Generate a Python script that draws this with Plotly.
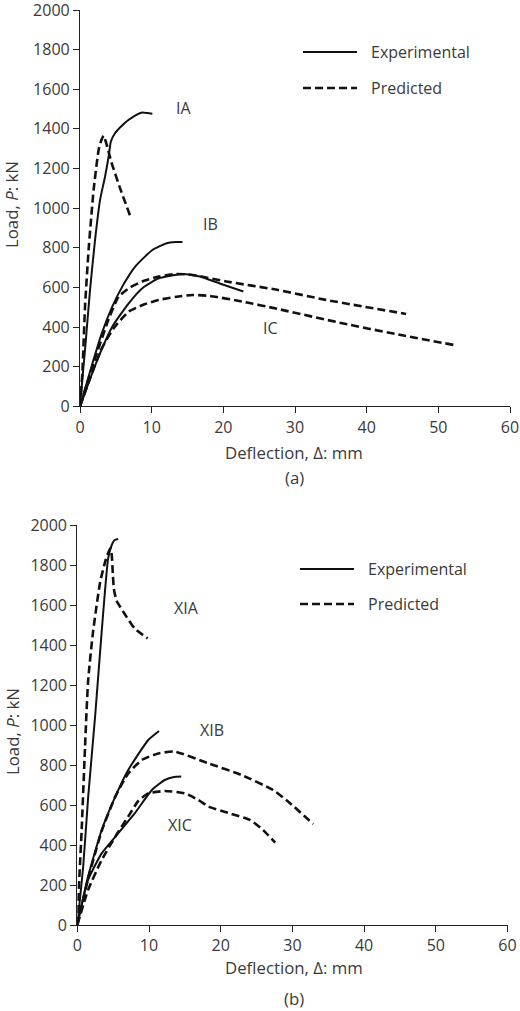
import plotly.graph_objects as go

# ---------------- data: panel (a) ----------------
IA_exp_x = [0, 0.33, 0.7, 1.4, 2.1, 2.8, 3.5, 4.0, 4.3, 4.9, 5.8, 6.8, 7.8, 8.7, 9.4, 10.1]
IA_exp_y = [0, 140, 284, 587, 840, 1042, 1160, 1261, 1335, 1379, 1415, 1446, 1470, 1483, 1480, 1476]
IA_pre_x = [0, 0.33, 0.7, 1.2, 1.9, 2.6, 3.0, 3.3, 3.8, 4.4, 5.6, 7.0]
IA_pre_y = [0, 168, 503, 789, 1092, 1294, 1345, 1365, 1310, 1230, 1100, 961]

IB_exp_x = [0, 1.6, 3.05, 4.5, 5.9, 7.7, 10.1, 12.0, 13.4, 14.3]
IB_exp_y = [0, 200, 369, 503, 604, 705, 789, 822, 829, 829]
IB_pre_x = [0, 2.0, 4.0, 5.4, 7.0, 8.7, 11.0, 13.4, 15.7, 20.4, 27.5, 34.3, 45.5]
IB_pre_y = [0, 230, 440, 554, 600, 630, 655, 668, 663, 630, 588, 537, 466]

IC_exp_x = [0, 1.17, 2.6, 4.5, 6.8, 8.7, 11.0, 14.3, 16.7, 19.5, 22.8]
IC_exp_y = [0, 116, 251, 402, 520, 596, 646, 668, 655, 620, 579]
IC_pre_x = [0, 1.5, 3.0, 4.7, 6.8, 9.0, 11.0, 13.5, 15.7, 18.1, 22.6, 27.5, 36.6, 44.0, 52.1]
IC_pre_y = [0, 150, 290, 394, 478, 515, 537, 553, 562, 557, 529, 492, 419, 365, 310]

# ---------------- data: panel (b) ----------------
XIA_exp_x = [0, 0.84, 1.5, 2.5, 3.4, 4.3, 4.8, 5.2, 5.7]
XIA_exp_y = [0, 300, 633, 1050, 1467, 1833, 1900, 1925, 1930]
XIA_pre_x = [0, 0.3, 0.6, 1.07, 1.5, 2.2, 3.2, 4.0, 4.6, 4.8, 4.95, 5.1, 5.5, 6.7, 8.0, 9.8]
XIA_pre_y = [0, 250, 467, 883, 1217, 1467, 1717, 1830, 1883, 1850, 1760, 1680, 1620, 1550, 1483, 1433]

XIB_exp_x = [0, 1.5, 3.4, 5.3, 7.1, 9.9, 11.4]
XIB_exp_y = [0, 242, 475, 642, 775, 925, 970]
XIB_pre_x = [0, 1.5, 3.4, 5.3, 7.1, 9.0, 11.3, 13.6, 18.3, 22.9, 27.3, 29.7, 32.9]
XIB_pre_y = [0, 230, 470, 642, 758, 825, 858, 867, 808, 750, 675, 608, 505]

XIC_exp_x = [0, 1.5, 3.4, 5.7, 8.0, 10.4, 12.2, 13.5, 14.5]
XIC_exp_y = [0, 225, 358, 458, 558, 675, 725, 740, 742]
XIC_pre_x = [0, 1.5, 3.4, 5.3, 7.1, 8.5, 9.9, 12.2, 15.0, 16.9, 18.3, 21.3, 24.1, 25.9, 27.6]
XIC_pre_y = [0, 175, 325, 442, 542, 620, 658, 670, 658, 625, 592, 558, 525, 475, 412]

# curve labels
labels_a = ["IA", "IB", "IC"]
labels_a_x = [14.5, 18.2, 26.6]
labels_a_y = [1506, 921, 395]
labels_b = ["XIA", "XIB", "XIC"]
labels_b_x = [15.2, 18.8, 14.3]
labels_b_y = [1585, 975, 500]

x_ticks = [0, 10, 20, 30, 40, 50, 60]
y_ticks = [0, 200, 400, 600, 800, 1000, 1200, 1400, 1600, 1800, 2000]
legend_names = ["Experimental", "Predicted"]

# ---------------- figure ----------------
W, H = 520, 1011
FONT = "Open Sans"
TXT = "#3a3a3a"
LINE = "#111111"
DASH = "8px,4px"
FS = 16
FS_TITLE = 16.8

fig = go.Figure()

def add(x, y, dashed, xa, ya):
    fig.add_trace(go.Scatter(
        x=x, y=y, mode="lines", xaxis=xa, yaxis=ya, showlegend=False,
        line=dict(color=LINE, width=2.6 if dashed else 2.0,
                  dash=DASH if dashed else "solid",
                  shape="spline", smoothing=0.5),
        hoverinfo="skip"))

for (x, y, d) in [(IA_exp_x, IA_exp_y, False), (IA_pre_x, IA_pre_y, True),
                  (IB_exp_x, IB_exp_y, False), (IB_pre_x, IB_pre_y, True),
                  (IC_exp_x, IC_exp_y, False), (IC_pre_x, IC_pre_y, True)]:
    add(x, y, d, "x", "y")
for (x, y, d) in [(XIA_exp_x, XIA_exp_y, False), (XIA_pre_x, XIA_pre_y, True),
                  (XIB_exp_x, XIB_exp_y, False), (XIB_pre_x, XIB_pre_y, True),
                  (XIC_exp_x, XIC_exp_y, False), (XIC_pre_x, XIC_pre_y, True)]:
    add(x, y, d, "x2", "y2")

def px_x(p):
    return p / W

def px_y(p):
    return 1 - p / H

axis_common = dict(
    showline=True, linecolor="#222222", linewidth=1.2, showgrid=False, zeroline=False,
    ticks="outside", ticklen=6, tickwidth=1, tickcolor="#222222",
    tickfont=dict(family=FONT, size=FS, color=TXT), ticklabeloverflow="allow",
)

fig.update_layout(
    width=W, height=H, margin=dict(l=0, r=0, t=0, b=0, pad=0, autoexpand=False),
    paper_bgcolor="white", plot_bgcolor="white",
    font=dict(family=FONT, size=FS, color=TXT),
    xaxis=dict(domain=[px_x(80), px_x(510)], range=[0, 60], tickvals=x_ticks,
               anchor="y", **axis_common),
    yaxis=dict(domain=[px_y(406.3), px_y(10)], range=[0, 2000], tickvals=y_ticks,
               anchor="x", **axis_common),
    xaxis2=dict(domain=[px_x(77.3), px_x(507.5)], range=[0, 60], tickvals=x_ticks,
                anchor="y2", **axis_common),
    yaxis2=dict(domain=[px_y(925), px_y(525)], range=[0, 2000], tickvals=y_ticks,
                anchor="x2", **axis_common),
    showlegend=False,
)

def txt(size=FS, **kw):
    d = dict(showarrow=False, font=dict(family=FONT, size=size, color=TXT),
             yanchor="middle")
    d.update(kw)
    return d

ann = []
for t, x, y in zip(labels_a, labels_a_x, labels_a_y):
    ann.append(txt(text=t, x=x, y=y, xref="x", yref="y", xanchor="center"))
for t, x, y in zip(labels_b, labels_b_x, labels_b_y):
    ann.append(txt(text=t, x=x, y=y, xref="x2", yref="y2", xanchor="center"))

# axis titles and panel captions
for cy in [205, 732]:
    ann.append(txt(size=FS_TITLE, text="Load, <i>P</i>: kN", x=px_x(12), y=px_y(cy),
                   xref="paper", yref="paper", textangle=-90, xanchor="center"))
for cy, cap, cap_y in [(452, "(a)", 478), (967, "(b)", 998)]:
    ann.append(txt(size=FS_TITLE, text="Deflection, Δ: mm", x=px_x(294), y=px_y(cy),
                   xref="paper", yref="paper", xanchor="center"))
    ann.append(txt(size=FS_TITLE, text=cap, x=px_x(294), y=px_y(cap_y),
                   xref="paper", yref="paper", xanchor="center"))

# legends (one per panel)
shapes = []
for (x0, x1, tx, ys) in [(303, 357, 369, [52, 88]), (300, 354, 366, [569, 604])]:
    for name, yy, dashed in zip(legend_names, ys, [False, True]):
        shapes.append(dict(type="line", xref="paper", yref="paper",
                           x0=px_x(x0), x1=px_x(x1), y0=px_y(yy), y1=px_y(yy),
                           line=dict(color=LINE, width=2.6 if dashed else 2.0,
                                     dash=DASH if dashed else "solid")))
        ann.append(txt(text=name, x=px_x(tx), y=px_y(yy), xref="paper", yref="paper",
                       xanchor="left"))

fig.update_layout(annotations=ann, shapes=shapes)
fig.write_html("out.html",
               post_script="document.body.style.margin='0';document.body.style.padding='0';"
                           "document.documentElement.style.overflow='hidden';")
